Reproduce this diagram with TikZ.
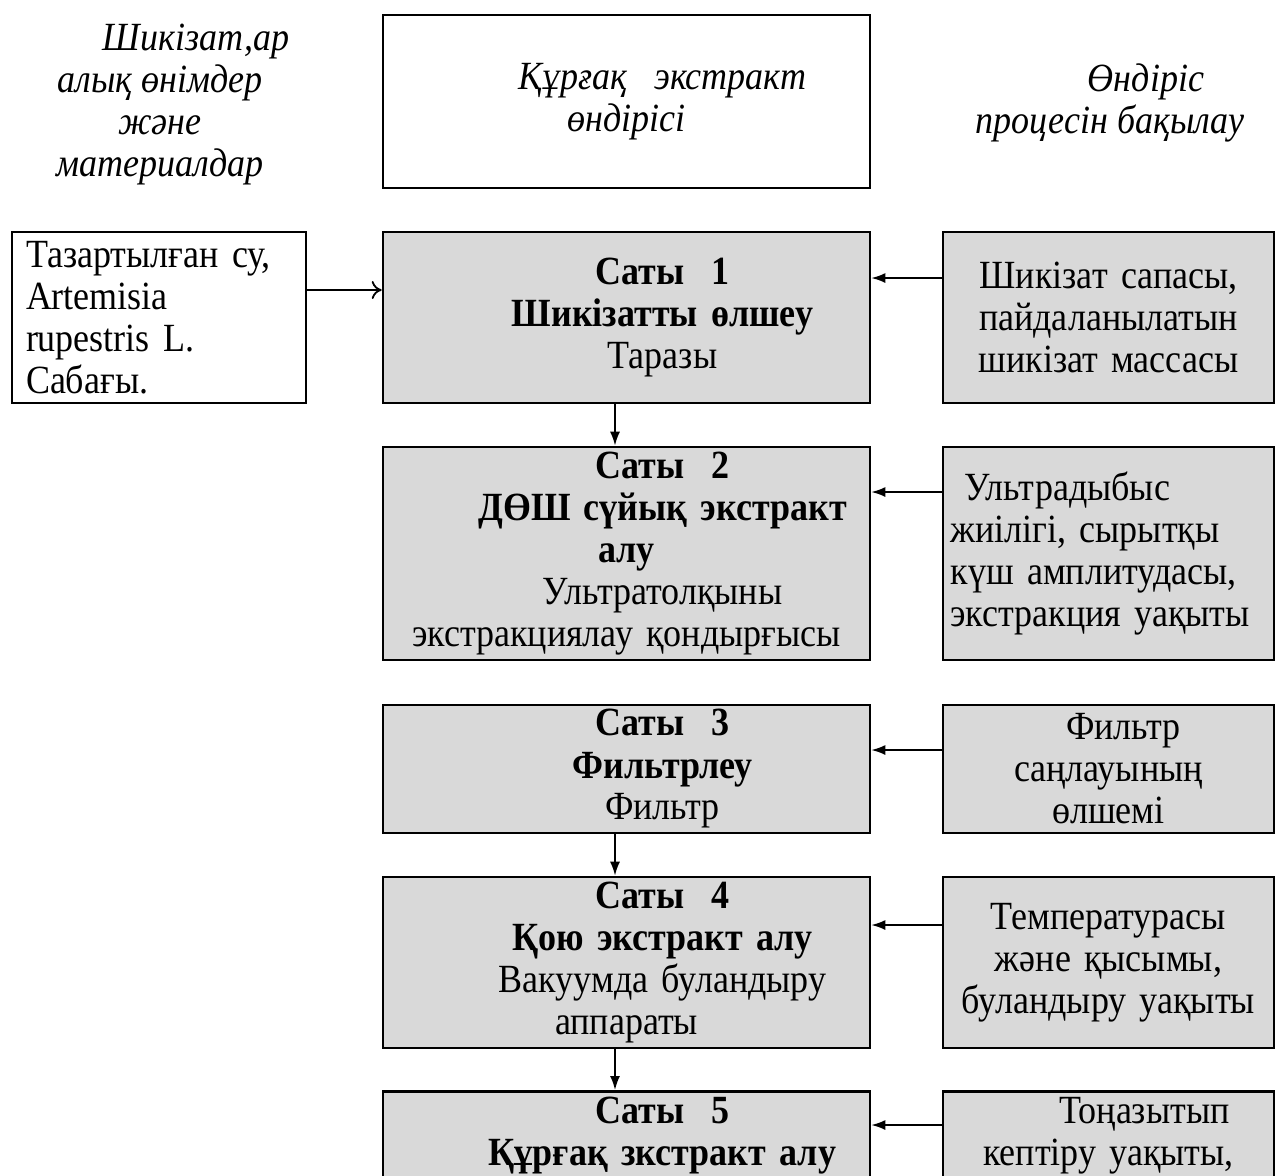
\documentclass[tikz,border=0pt]{standalone}
\usepackage{fontspec}
\setmainfont{Liberation Serif}[FakeStretch=0.9]
\usetikzlibrary{arrows.meta}

\definecolor{stepgray}{HTML}{D9D9D9}
\newcommand{\diagfont}{\fontsize{20}{21}\selectfont}
\newcommand{\ind}{\hspace*{36pt}}

\begin{document}
\begin{tikzpicture}[x=0.5pt,y=-0.5pt,font=\diagfont,
  box/.style={draw,line width=1.3pt,align=center,inner xsep=3pt,inner ysep=1pt},
  stepbox/.style={box,fill=stepgray,minimum width=243.5pt,text width=236pt},
  ctrlbox/.style={box,fill=stepgray,minimum width=165.5pt,text width=158pt},
  flow/.style={line width=0.9pt,-{Latex[length=7pt,width=5pt]}},
  feed/.style={line width=0.9pt,-{To[length=5pt,width=9pt]}}]

\useasboundingbox (0,0) rectangle (1276,1175);
\clip (0,0) rectangle (1276,1175);

% headings
\node[align=center,font=\diagfont\itshape] (inhead) at (160,105)
  {\ind Шикізат,ар\\алық өнімдер\\және\\материалдар};
\node[box,minimum width=243.5pt,minimum height=86.5pt,text width=236pt,
  font=\diagfont\itshape] (head) at (626.5,101.5)
  {\ind Құрғақ\ \ экстракт\\өндірісі};
\node[align=center,font=\diagfont\itshape] (ctrlhead) at (1110,103)
  {\ind Өндіріс\\процесін бақылау};

% raw materials
\node[box,minimum width=147pt,minimum height=85.5pt,text width=133pt,
  align=left] (raw) at (159,317.5)
  {Тазартылған су,\\Artemisia\\rupestris L.\\Сабағы.};

% steps
\node[stepbox,minimum height=85.5pt] (s1) at (626.5,317.5)
  {\ind\textbf{Саты\ \ 1}\\\ind\textbf{Шикізатты өлшеу}\\\ind Таразы};
\node[stepbox,minimum height=106.5pt] (s2) at (626.5,553.5)
  {\ind\textbf{Саты\ \ 2}\\\ind\textbf{ДӨШ сүйық экстракт}\\\textbf{алу}\\
   \ind Ультратолқыны\\экстракциялау қондырғысы};
\node[stepbox,minimum height=64pt] (s3) at (626.5,769)
  {\ind\textbf{Саты\ \ 3}\\\ind\textbf{Фильтрлеу}\\\ind Фильтр};
\node[stepbox,minimum height=85.5pt] (s4) at (626.5,962.5)
  {\ind\textbf{Саты\ \ 4}\\\ind\textbf{Қою экстракт алу}\\\ind Вакуумда буландыру\\
   аппараты};
\node[stepbox,inner ysep=3pt,anchor=north] (s5) at (626.5,1090)
  {\ind\textbf{Саты\ \ 5}\\\ind\textbf{Құрғақ зкстракт алу}};

% process control
\node[ctrlbox,minimum height=85.5pt] (r1) at (1108.5,317.5)
  {Шикізат сапасы,\\пайдаланылатын\\шикізат массасы};
\node[ctrlbox,minimum height=106.5pt,align=left] (r2) at (1108.5,553.5)
  {\hspace*{7pt}Ультрадыбыс\\жиілігі, сырытқы\\күш амплитудасы,\\экстракция уақыты};
\node[ctrlbox,minimum height=64pt] (r3) at (1108.5,769)
  {\hspace*{15pt}Фильтр\\саңлауының\\өлшемі};
\node[ctrlbox,minimum height=85.5pt] (r4) at (1108.5,962.5)
  {Температурасы\\және қысымы,\\буландыру уақыты};
\node[ctrlbox,inner ysep=3pt,anchor=north] (r5) at (1108.5,1090)
  {\ind Тоңазытып\\кептіру уақыты,};

% arrows
\draw[feed] (raw.east |- 0,290) -- (s1.west |- 0,290);
\foreach \i/\y in {1/278,2/492,3/750,4/925,5/1125}
  \draw[flow] (r\i.west |- 0,\y) -- (s\i.east |- 0,\y);
\foreach \a/\b in {1/2,3/4,4/5}
  \draw[flow] (s\a.south -| 615,0) -- (s\b.north -| 615,0);

\end{tikzpicture}
\end{document}
